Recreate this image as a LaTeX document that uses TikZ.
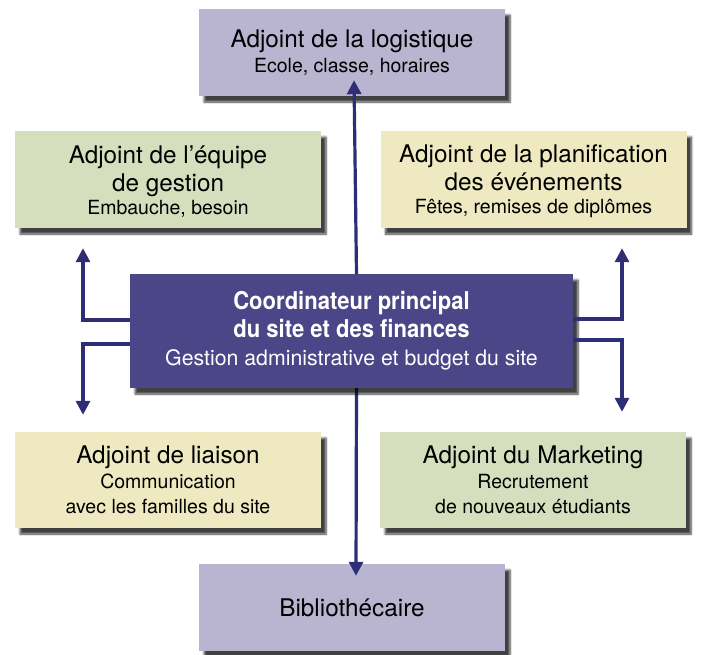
\documentclass[tikz,border=0pt]{standalone}
\usepackage{fontspec}
\setmainfont{TeX Gyre Heros}
\newfontfamily\condfont[FakeStretch=0.9]{TeX Gyre Heros}
\usetikzlibrary{arrows.meta,shadows.blur}

\definecolor{lilas}{RGB}{185,180,207}
\definecolor{vert}{RGB}{213,223,190}
\definecolor{jaune}{RGB}{238,233,192}
\definecolor{violet}{RGB}{75,70,135}
\definecolor{bleunuit}{RGB}{46,46,118}

\newcommand{\soustitre}{\fontsize{19.5}{24}\selectfont}

\tikzset{
    case/.style={minimum width=306pt, inner sep=0pt, align=center,
        font=\fontsize{24.3}{28}\selectfont,
        blur shadow={shadow xshift=5pt, shadow yshift=-6pt,
            shadow blur steps=6, shadow opacity=75}},
    lien/.style={draw=bleunuit, line width=3.2pt,
        -{Triangle[length=14pt,width=14pt]}}
}

\begin{document}
\begin{tikzpicture}[x=1pt,y=-1pt]
    \useasboundingbox (0,0) rectangle (706,654);
    % les adjoints
    \node[case, fill=lilas, minimum height=87pt] (logi) at (352,52.5)
        {Adjoint de la logistique\\[-3pt]{\soustitre Ecole, classe, horaires}};
    \node[case, fill=vert, minimum height=97pt] (gest) at (168,179.5)
        {\\[-6pt]Adjoint de l’équipe\\de gestion\\[-5pt]{\soustitre Embauche, besoin}};
    \node[case, fill=jaune, minimum height=97pt] (plan) at (533.5,179.5)
        {\\[-6pt]Adjoint de la planification\\des événements\\[-5pt]{\soustitre Fêtes, remises de diplômes}};
    \node[case, fill=jaune, minimum height=96pt] (liai) at (168,480)
        {Adjoint de liaison\\[-3pt]{\soustitre Communication}\\[-3pt]{\soustitre avec les familles du site}};
    \node[case, fill=vert, minimum height=96pt] (mark) at (533,480)
        {Adjoint du Marketing\\[-3pt]{\soustitre Recrutement}\\[-3pt]{\soustitre de nouveaux étudiants}};
    \node[case, fill=lilas, minimum height=87pt] (bibl) at (352,607.5)
        {Bibliothécaire};
    % les fleches
    \draw[lien] ([xshift=2.5pt]354,274) -- ([xshift=2pt,yshift=16pt]logi.south);
    \draw[lien] ([xshift=4.5pt]352,388) -- ([xshift=4pt,yshift=-12pt]bibl.north);
    % le coordinateur
    \node[case, fill=violet, text=white, minimum width=443pt, minimum height=114pt,
        font=\fontsize{24.5}{28}\selectfont] (coord) at (351.5,331)
        {{\condfont\bfseries Coordinateur principal}\\{\condfont\bfseries du site et des finances}\\[0pt]{\fontsize{21.3}{26}\selectfont Gestion administrative et budget du site}};
    \draw[lien] ([yshift=11pt]coord.west) -| ([xshift=-85pt,yshift=-20pt]gest.south);
    \draw[lien] ([yshift=-13pt]coord.west) -| ([xshift=-85pt,yshift=17pt]liai.north);
    \draw[lien] ([yshift=12pt]coord.east) -| ([xshift=88.5pt,yshift=-20pt]plan.south);
    \draw[lien] ([yshift=-9pt]coord.east) -| ([xshift=89pt,yshift=20pt]mark.north);
\end{tikzpicture}
\end{document}
